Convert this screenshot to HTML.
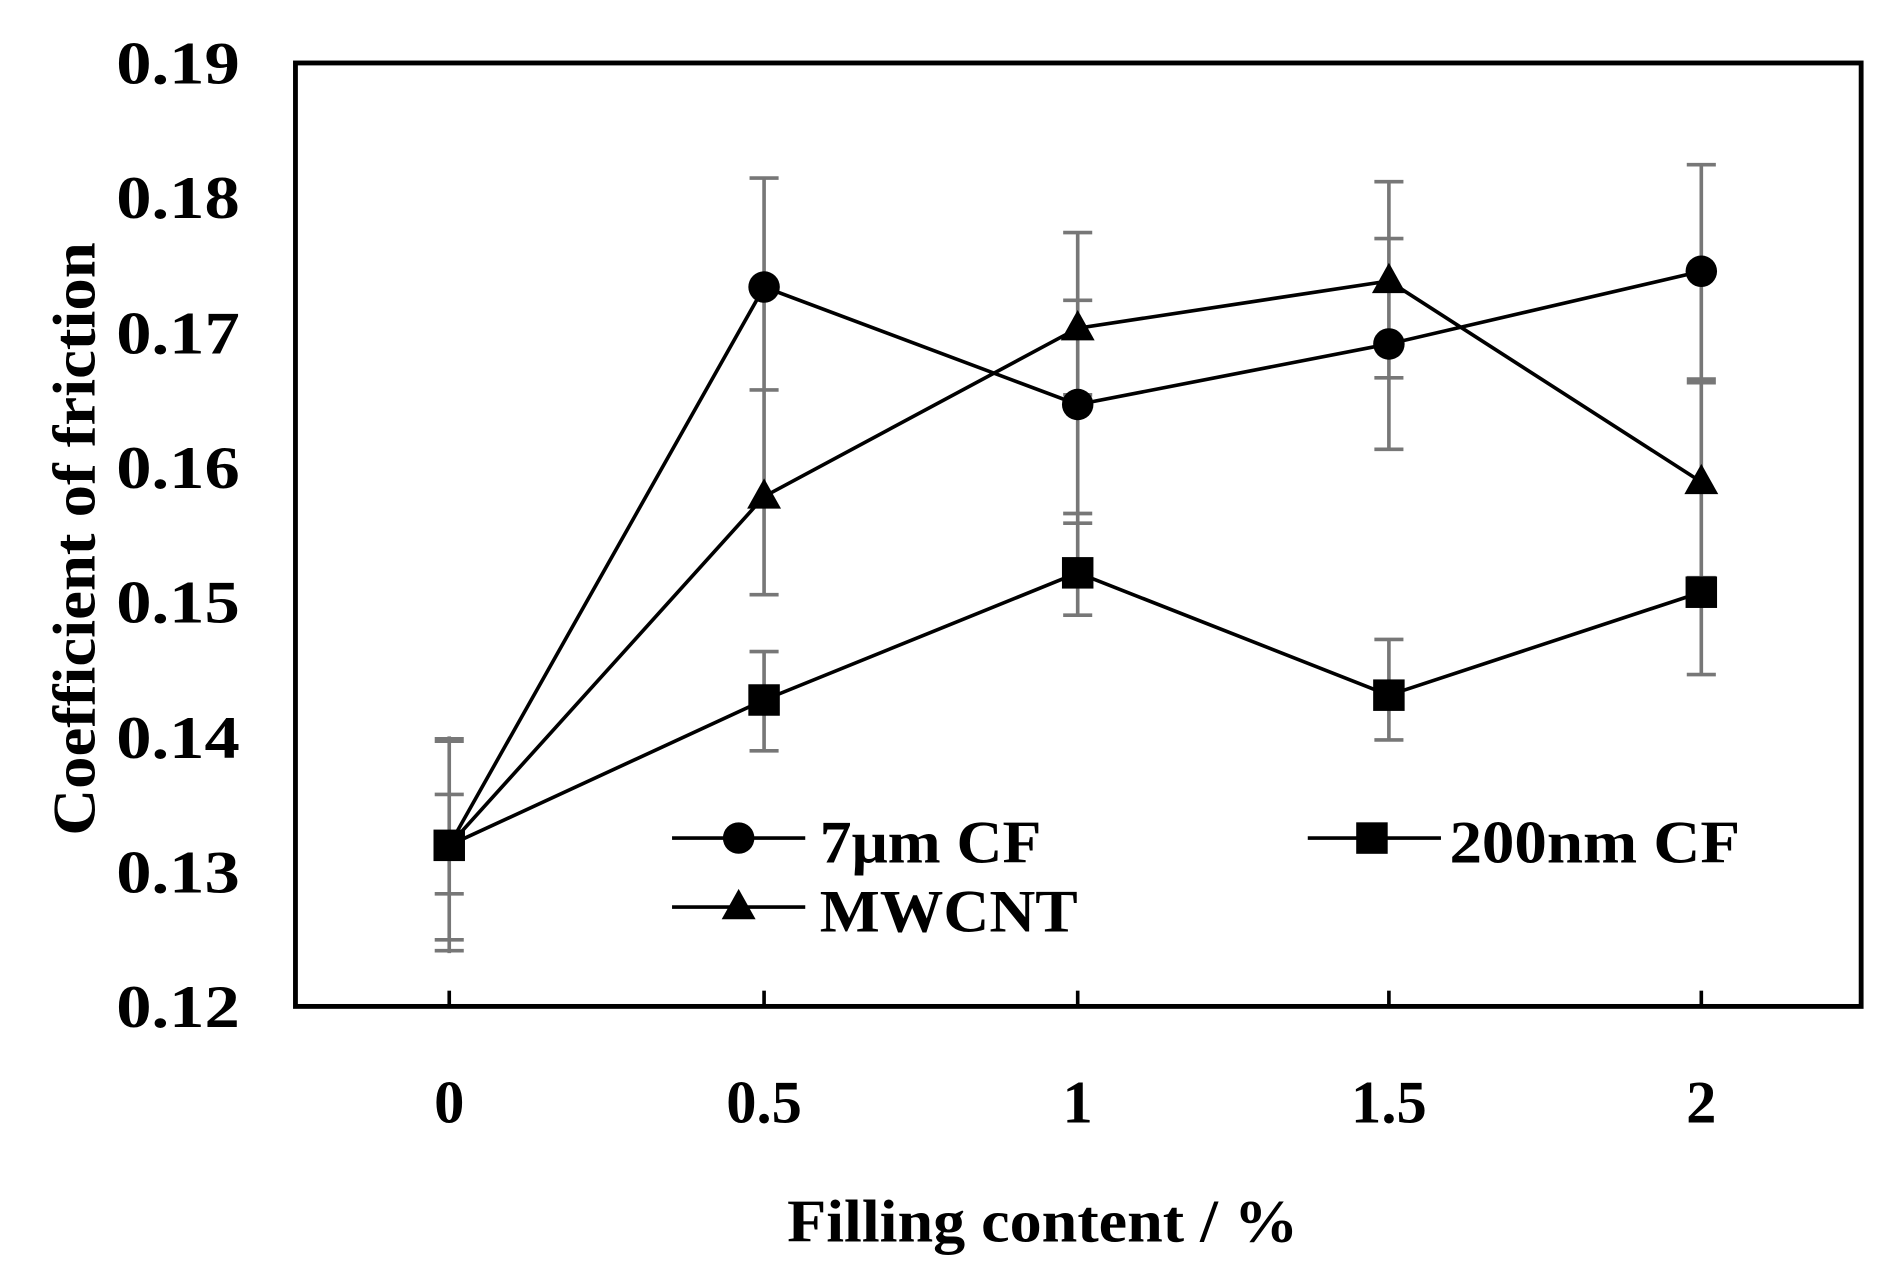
<!DOCTYPE html>
<html><head><style>html,body{margin:0;padding:0;background:#fff}svg{display:block}</style></head>
<body>
<svg width="1889" height="1268" viewBox="0 0 1560 1047" preserveAspectRatio="none" xmlns="http://www.w3.org/2000/svg" font-family="Liberation Serif, serif" font-weight="bold">
<rect x="0" y="0" width="1560" height="1047" fill="#fff"/>
<rect x="244" y="52" width="1293" height="779" fill="none" stroke="#000" stroke-width="4"/>
<g stroke="#000" stroke-width="3">
<line x1="371" y1="831" x2="371" y2="818"/><line x1="631" y1="831" x2="631" y2="818"/><line x1="890" y1="831" x2="890" y2="818"/><line x1="1147" y1="831" x2="1147" y2="818"/><line x1="1405" y1="831" x2="1405" y2="818"/>
</g>
<g font-size="50" fill="#000" lengthAdjust="spacingAndGlyphs">
<text x="96" y="69" textLength="102" lengthAdjust="spacingAndGlyphs">0.19</text><text x="96" y="180" textLength="102" lengthAdjust="spacingAndGlyphs">0.18</text><text x="96" y="292" textLength="102" lengthAdjust="spacingAndGlyphs">0.17</text><text x="96" y="403" textLength="102" lengthAdjust="spacingAndGlyphs">0.16</text><text x="96" y="514" textLength="102" lengthAdjust="spacingAndGlyphs">0.15</text><text x="96" y="626" textLength="102" lengthAdjust="spacingAndGlyphs">0.14</text><text x="96" y="737" textLength="102" lengthAdjust="spacingAndGlyphs">0.13</text><text x="96" y="848" textLength="102" lengthAdjust="spacingAndGlyphs">0.12</text>
</g>
<g font-size="50" text-anchor="middle" fill="#000">
<text x="371" y="927">0</text><text x="631" y="927">0.5</text><text x="890" y="927">1</text><text x="1147" y="927">1.5</text><text x="1405" y="927">2</text>
</g>
<text x="650" y="1025" font-size="50" textLength="422" lengthAdjust="spacingAndGlyphs">Filling  content / %</text>
<text transform="translate(78,690) rotate(-90)" font-size="50" textLength="490" lengthAdjust="spacingAndGlyphs">Coefficient  of friction</text>
<g stroke="#777" stroke-width="3" fill="none">
<path d="M371 608V787M359 610h24M359 612h24M359 656h24M359 738h24M359 776h24M359 785h24"/>
<path d="M631 147V491M631 538V620M619 147h24M619 322h24M619 491h24M619 538h24M619 620h24"/>
<path d="M890 192V508M878 192h24M878 248h24M878 326h24M878 424h24M878 432h24M878 508h24"/>
<path d="M1147 150V371M1147 528V611M1135 150h24M1135 197h24M1135 312h24M1135 371h24M1135 528h24M1135 611h24"/>
<path d="M1405 136V557M1393 136h24M1393 313h24M1393 316h24M1393 477h24M1393 557h24"/>
</g>
<g stroke="#000" stroke-width="3" fill="none">
<polyline points="371,698 631,237 890,334 1147,284 1405,224"/>
<polyline points="371,698 631,578 890,473 1147,574 1405,489"/>
<polyline points="371,698 631,410 890,271 1147,232 1405,398"/>
<line x1="555" y1="692" x2="665" y2="692"/><line x1="1080" y1="692" x2="1190" y2="692"/><line x1="555" y1="749" x2="665" y2="749"/>
</g>
<g fill="#000">
<circle cx="631" cy="237" r="13"/><circle cx="890" cy="334" r="13"/><circle cx="1147" cy="284" r="13"/><circle cx="1405" cy="224" r="13"/>
<rect x="358" y="685" width="26" height="26"/><rect x="618" y="565" width="26" height="26"/><rect x="877" y="460" width="26" height="26"/><rect x="1134" y="561" width="26" height="26"/><rect x="1392" y="476" width="26" height="26"/>
<path d="M631 395l14 25h-28z"/><path d="M890 256l14 25h-28z"/><path d="M1147 217l14 25h-28z"/><path d="M1405 383l14 25h-28z"/>
<circle cx="610" cy="692" r="13"/><rect x="1120" y="679" width="26" height="26"/><path d="M610 734l14 25h-28z"/>
</g>
<g font-size="50" fill="#000">
<text x="677" y="712" textLength="183" lengthAdjust="spacingAndGlyphs">7μm CF</text><text x="1197" y="712" textLength="240" lengthAdjust="spacingAndGlyphs">200nm CF</text><text x="677" y="769" textLength="213" lengthAdjust="spacingAndGlyphs">MWCNT</text>
</g>
</svg>
</body></html>
